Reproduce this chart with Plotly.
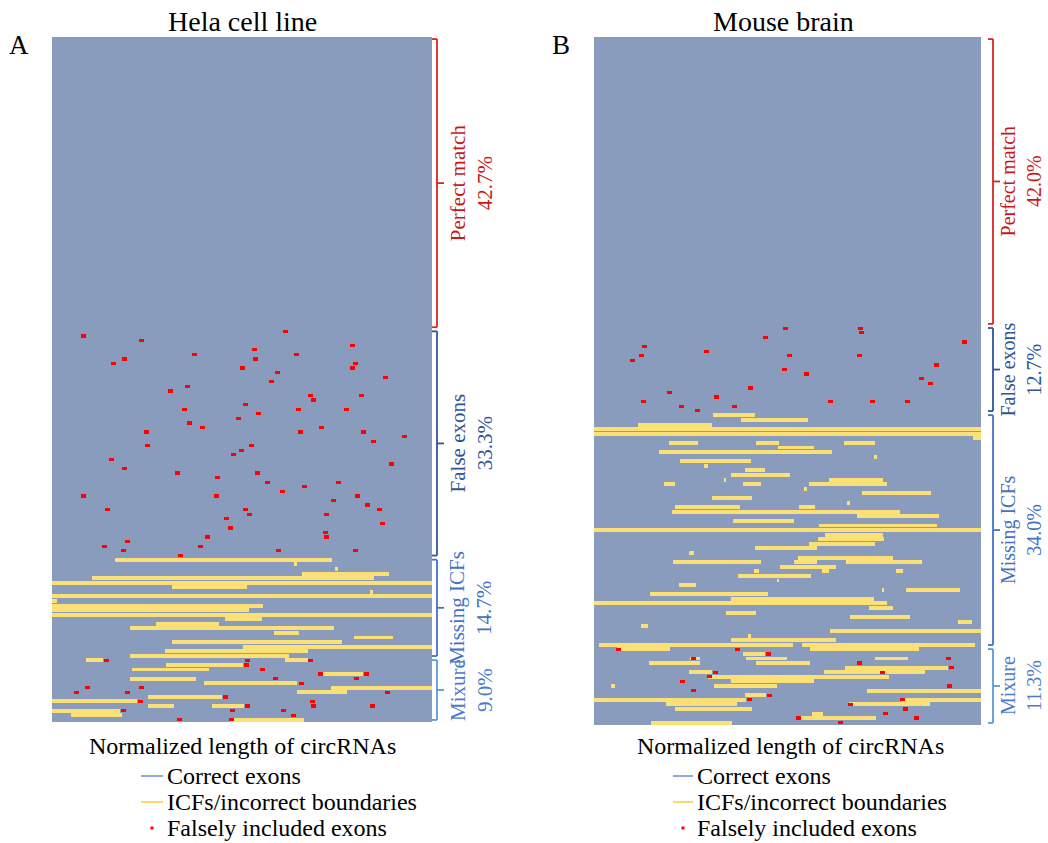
import plotly.graph_objects as go

W, H = 1048, 843
N_ROWS = 150

# ---------------- data ----------------
groups = ["Perfect match", "False exons", "Missing ICFs", "Mixure"]
hela_counts = [64, 50, 22, 14]
hela_pct = ["42.7%", "33.3%", "14.7%", "9.0%"]
brain_counts = [63, 19, 51, 17]
brain_pct = ["42.0%", "12.7%", "34.0%", "11.3%"]

# ICFs / incorrect boundaries: (row, start, end) on normalized length
hela_icf = [
    (114, 0.166, 0.738), (115, 0.638, 0.645), (116, 0.746, 0.753), (117, 0.659, 0.887),
    (118, 0.104, 0.848), (119, 0.0, 1.0), (120, 0.315, 0.514), (121, 0.837, 0.845),
    (122, 0.0, 1.0), (123, 0.0, 0.012), (124, 0.0, 0.554), (125, 0.0, 0.518),
    (126, 0.0, 1.0), (127, 0.454, 0.553), (128, 0.273, 0.439), (129, 0.205, 0.741),
    (130, 0.585, 0.651), (131, 0.796, 0.897), (132, 0.316, 0.764), (133, 0.503, 1.0),
    (134, 0.297, 0.674), (135, 0.206, 0.623),
    (136, 0.089, 0.135), (136, 0.612, 0.673), (137, 0.301, 0.503), (138, 0.211, 0.413),
    (139, 0.703, 0.819), (140, 0.205, 0.379), (141, 0.399, 0.646), (142, 0.734, 1.0),
    (143, 0.644, 0.776), (144, 0.252, 0.447), (145, 0.0, 0.224), (146, 0.252, 0.322),
    (146, 0.421, 0.506), (147, 0.0, 0.179), (148, 0.051, 0.184), (149, 0.468, 0.663),
]

# Falsely included exons: (row, position)
hela_false = [
    (64, 0.614), (65, 0.082), (66, 0.235), (67, 0.790), (68, 0.532), (69, 0.374), (69, 0.643),
    (70, 0.190), (70, 0.535), (71, 0.161), (71, 0.798), (72, 0.501), (72, 0.790), (73, 0.593),
    (74, 0.877), (75, 0.577), (76, 0.356), (77, 0.311), (78, 0.680), (78, 0.814), (79, 0.688),
    (80, 0.509), (81, 0.348), (81, 0.648), (81, 0.774), (82, 0.543), (83, 0.490), (84, 0.361),
    (85, 0.396), (85, 0.709), (86, 0.248), (86, 0.653), (86, 0.819), (87, 0.927), (88, 0.846),
    (89, 0.251), (89, 0.524), (90, 0.498), (91, 0.477), (92, 0.156), (93, 0.893), (94, 0.190),
    (95, 0.330), (95, 0.540), (96, 0.435), (97, 0.567), (97, 0.753), (98, 0.664), (99, 0.606),
    (100, 0.082), (100, 0.432), (100, 0.803), (101, 0.740), (102, 0.830), (103, 0.146),
    (103, 0.509), (103, 0.861), (104, 0.519), (104, 0.722), (105, 0.459), (106, 0.869),
    (107, 0.469), (108, 0.719), (109, 0.722), (109, 0.409), (110, 0.198), (111, 0.138),
    (111, 0.390), (112, 0.188), (112, 0.596), (112, 0.798), (113, 0.338),
    (136, 0.143), (136, 0.514), (136, 0.680), (137, 0.511), (138, 0.553), (139, 0.706),
    (139, 0.827), (140, 0.588), (140, 0.801), (141, 0.656), (142, 0.093), (142, 0.235),
    (143, 0.064), (143, 0.198), (143, 0.882), (144, 0.456), (145, 0.232), (145, 0.685),
    (146, 0.514), (146, 0.688), (146, 0.843), (147, 0.188), (147, 0.474), (147, 0.609),
    (148, 0.635), (149, 0.335), (149, 0.472),
]

brain_icf = [
    (82, 0.308, 0.416), (83, 0.380, 0.554), (84, 0.114, 0.304), (85, 0.0, 1.0), (86, 0.0, 1.0),
    (87, 0.980, 1.0), (88, 0.195, 0.268), (88, 0.419, 0.477), (88, 0.646, 0.727),
    (89, 0.475, 0.568), (90, 0.169, 0.614), (91, 0.726, 0.731), (92, 0.222, 0.406),
    (93, 0.283, 0.294), (94, 0.390, 0.442), (95, 0.355, 0.507), (96, 0.336, 0.340),
    (96, 0.606, 0.747), (97, 0.181, 0.208), (97, 0.385, 0.431), (97, 0.556, 0.756),
    (98, 0.545, 0.550), (99, 0.693, 0.870), (100, 0.304, 0.407), (101, 0.656, 0.661),
    (102, 0.209, 0.377), (102, 0.530, 0.572), (103, 0.202, 0.791), (104, 0.680, 0.891),
    (105, 0.359, 0.518), (106, 0.581, 0.886), (107, 0.0, 1.0), (108, 0.597, 0.747),
    (109, 0.579, 0.749), (110, 0.556, 0.726), (111, 0.416, 0.576), (112, 0.245, 0.258),
    (113, 0.526, 0.773), (114, 0.204, 0.432), (114, 0.516, 0.576), (114, 0.651, 0.848),
    (115, 0.481, 0.625), (116, 0.414, 0.427), (116, 0.589, 0.606), (116, 0.780, 0.798),
    (117, 0.372, 0.560), (118, 0.474, 0.479), (119, 0.220, 0.263), (120, 0.746, 0.750),
    (120, 0.806, 0.947), (121, 0.144, 0.449), (122, 0.353, 0.724), (123, 0.0, 0.757),
    (124, 0.710, 0.773), (125, 0.342, 0.418), (126, 0.661, 0.817), (127, 0.941, 0.978),
    (128, 0.121, 0.139), (129, 0.610, 1.0), (130, 0.398, 0.405), (131, 0.353, 0.625),
    (132, 0.013, 0.514), (132, 0.538, 0.985),
    (133, 0.059, 0.196), (133, 0.557, 0.840), (134, 0.385, 0.442), (135, 0.249, 0.273),
    (135, 0.394, 0.499), (135, 0.726, 0.811), (136, 0.143, 0.273), (136, 0.419, 0.558),
    (137, 0.648, 0.914), (138, 0.246, 0.304), (138, 0.594, 0.855), (139, 0.294, 0.763),
    (140, 0.353, 0.568), (141, 0.045, 0.055), (141, 0.309, 0.473), (142, 0.706, 1.0),
    (143, 0.390, 0.444), (144, 0.0, 0.394), (144, 0.793, 1.0), (145, 0.186, 0.370),
    (145, 0.660, 0.868), (146, 0.210, 0.408), (147, 0.563, 0.592), (148, 0.525, 0.729),
    (149, 0.148, 0.357),
]

brain_false = [
    (63, 0.494), (63, 0.688), (64, 0.691), (65, 0.443), (66, 0.957), (67, 0.130), (68, 0.290),
    (69, 0.122), (69, 0.505), (69, 0.686), (70, 0.099), (71, 0.885), (72, 0.492), (73, 0.549),
    (74, 0.846), (75, 0.869), (76, 0.404), (77, 0.195), (78, 0.316), (79, 0.127), (79, 0.611),
    (79, 0.719), (79, 0.810), (80, 0.226), (80, 0.363), (81, 0.267),
    (133, 0.063), (133, 0.370), (134, 0.450), (135, 0.257), (135, 0.916), (136, 0.686),
    (137, 0.923), (138, 0.313), (138, 0.745), (139, 0.298), (140, 0.228), (141, 0.918),
    (142, 0.257), (143, 0.453), (144, 0.401), (144, 0.797), (145, 0.662), (146, 0.804),
    (147, 0.753), (148, 0.528), (148, 0.833), (149, 0.636),
]

legend_labels = ["Correct exons", "ICFs/incorrect boundaries", "Falsely included exons"]

# ---------------- styling ----------------
FONT = "Liberation Serif, Times New Roman, serif"
BG = "#8A9CBE"
YELLOW = "#FAE075"
RED = "#FF0000"
bracket_colors = ["#D9261C", "#2F5597", "#4472C4", "#5B9BD5"]
text_colors = ["#C8191A", "#2F5597", "#4472C4", "#4A7CCB"]


def px(x):
    return x / W


def py(y):
    return 1 - y / H


panels = [
    dict(name="Hela cell line", letter="A", icf=hela_icf, false=hela_false,
         counts=hela_counts, pct=hela_pct, xa="x", ya="y",
         dom_x=(52, 432), dom_y=(37, 722), br_x=437, lab_x=471, lab_size=21,
         leg_line=(141, 163), leg_text=165, title_cx=242, axis_cx=242),
    dict(name="Mouse brain", letter="B", icf=brain_icf, false=brain_false,
         counts=brain_counts, pct=brain_pct, xa="x2", ya="y2",
         dom_x=(594, 981), dom_y=(37, 725), br_x=993, lab_x=1021, lab_size=20,
         leg_line=(673, 693), leg_text=695, title_cx=783, axis_cx=790),
]

fig = go.Figure()
shapes = []
annotations = []
MARK_LEN = 0.0132

for i, p in enumerate(panels):
    rows = [r for r, s, e in p["icf"]]
    starts = [s for r, s, e in p["icf"]]
    lens = [e - s for r, s, e in p["icf"]]
    fig.add_trace(go.Bar(orientation="h", y=rows, x=lens, base=starts, width=0.86,
                         marker=dict(color=YELLOW, line=dict(width=0)),
                         xaxis=p["xa"], yaxis=p["ya"], showlegend=False, hoverinfo="skip"))
    fr = [r for r, x in p["false"]]
    fb = [x - MARK_LEN / 2 for r, x in p["false"]]
    fig.add_trace(go.Bar(orientation="h", y=fr, x=[MARK_LEN] * len(fr), base=fb, width=0.72,
                         marker=dict(color=RED, line=dict(width=0)),
                         xaxis=p["xa"], yaxis=p["ya"], showlegend=False, hoverinfo="skip"))

    # brackets
    yref = p["ya"]
    bx = p["br_x"]
    start = 0
    for g, (cnt, pct) in enumerate(zip(p["counts"], p["pct"])):
        y0 = start - 0.5 + 0.45
        y1 = start + cnt - 0.5 - 0.45
        ym = (y0 + y1) / 2
        col = bracket_colors[g]
        ln = dict(color=col, width=1.8)
        shapes.append(dict(type="line", xref="paper", yref=yref, x0=px(bx), x1=px(bx), y0=y0, y1=y1, line=ln))
        shapes.append(dict(type="line", xref="paper", yref=yref, x0=px(bx - 5), x1=px(bx), y0=y0, y1=y0, line=ln))
        shapes.append(dict(type="line", xref="paper", yref=yref, x0=px(bx - 5), x1=px(bx), y0=y1, y1=y1, line=ln))
        shapes.append(dict(type="line", xref="paper", yref=yref, x0=px(bx), x1=px(bx + 7), y0=ym, y1=ym, line=ln))
        annotations.append(dict(xref="paper", yref=yref, x=px(p["lab_x"]), y=ym,
                                text=f"{groups[g]}<br>{pct}", textangle=-90, showarrow=False,
                                xanchor="center", yanchor="middle", borderpad=0,
                                font=dict(family=FONT, size=p["lab_size"], color=text_colors[g])))
        start += cnt

    # titles
    annotations.append(dict(xref="paper", yref="paper", x=px(p["title_cx"]), y=py(21),
                            text=p["name"], showarrow=False, xanchor="center", yanchor="middle",
                            font=dict(family=FONT, size=28, color="black")))
    annotations.append(dict(xref="paper", yref="paper", x=px(p["dom_x"][0] - 33), y=py(45),
                            text=p["letter"], showarrow=False, xanchor="center", yanchor="middle",
                            font=dict(family=FONT, size=27, color="black")))
    annotations.append(dict(xref="paper", yref="paper", x=px(p["axis_cx"]), y=py(746),
                            text="Normalized length of circRNAs", showarrow=False,
                            xanchor="center", yanchor="middle",
                            font=dict(family=FONT, size=24, color="black")))
    # legend
    leg_y = [776, 802, 828]
    lx0, lx1 = p["leg_line"]
    shapes.append(dict(type="line", xref="paper", yref="paper", x0=px(lx0), x1=px(lx1),
                       y0=py(leg_y[0]), y1=py(leg_y[0]), line=dict(color="#8FAADC", width=2)))
    shapes.append(dict(type="line", xref="paper", yref="paper", x0=px(lx0), x1=px(lx1),
                       y0=py(leg_y[1]), y1=py(leg_y[1]), line=dict(color="#FFD966", width=2)))
    cx = (lx0 + lx1) / 2
    shapes.append(dict(type="rect", xref="paper", yref="paper", x0=px(cx - 1.5), x1=px(cx + 1.5),
                       y0=py(leg_y[2] - 1.5), y1=py(leg_y[2] + 1.5),
                       fillcolor=RED, line=dict(width=0)))
    for lab, ly in zip(legend_labels, leg_y):
        annotations.append(dict(xref="paper", yref="paper", x=px(p["leg_text"]), y=py(ly),
                                text=lab, showarrow=False, xanchor="left", yanchor="middle",
                                font=dict(family=FONT, size=24, color="black")))

axis_common = dict(showgrid=False, zeroline=False, showticklabels=False, ticks="",
                   showline=False, fixedrange=True)
p0, p1 = panels
fig.update_layout(
    width=W, height=H, margin=dict(l=0, r=0, t=0, b=0),
    paper_bgcolor="white", plot_bgcolor=BG, barmode="overlay", bargap=0,
    showlegend=False,
    xaxis=dict(domain=[px(p0["dom_x"][0]), px(p0["dom_x"][1])], range=[0, 1], anchor="y", **axis_common),
    yaxis=dict(domain=[py(p0["dom_y"][1]), py(p0["dom_y"][0])], range=[N_ROWS - 0.5, -0.5], anchor="x", **axis_common),
    xaxis2=dict(domain=[px(p1["dom_x"][0]), px(p1["dom_x"][1])], range=[0, 1], anchor="y2", **axis_common),
    yaxis2=dict(domain=[py(p1["dom_y"][1]), py(p1["dom_y"][0])], range=[N_ROWS - 0.5, -0.5], anchor="x2", **axis_common),
    shapes=shapes, annotations=annotations,
)

fig.write_html("out.html")
